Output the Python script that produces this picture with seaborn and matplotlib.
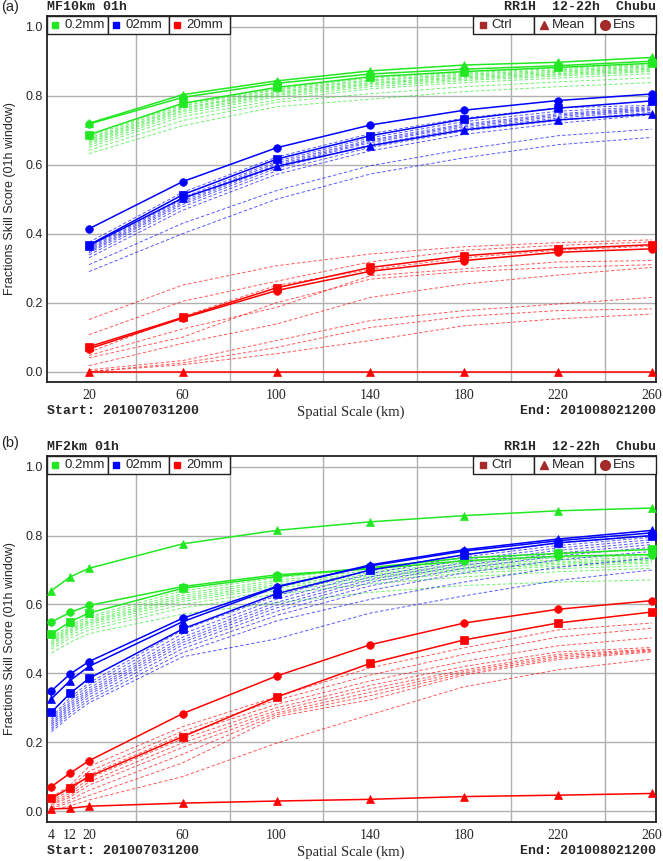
import numpy as np
import pandas as pd
import matplotlib
matplotlib.use("Agg")
import matplotlib.pyplot as plt
import seaborn as sns
from matplotlib.patches import Rectangle

sns.set_style("white")
plt.rcParams['font.family'] = ['DejaVu Sans']

# ---------------- DATA ----------------
thresholds = ["0.2mm", "02mm", "20mm"]
scales_a = [20, 60, 100, 140, 180, 220, 260]
scales_b = [4, 12, 20, 60, 100, 140, 180, 220, 260]
xticks_a = [20, 60, 100, 140, 180, 220, 260]
xticks_b = [4, 12, 20, 60, 100, 140, 180, 220, 260]
yticks = [0.0, 0.2, 0.4, 0.6, 0.8, 1.0]

# Panel (a) MF10km
a_green_ctrl = [0.687, 0.778, 0.824, 0.855, 0.870, 0.882, 0.894]
a_green_mean = [0.720, 0.803, 0.843, 0.872, 0.889, 0.897, 0.911]
a_green_ens = [0.718, 0.795, 0.836, 0.863, 0.877, 0.887, 0.900]
a_green_members = [
    [0.682, 0.775, 0.820, 0.851, 0.866, 0.879, 0.890],
    [0.677, 0.771, 0.817, 0.846, 0.862, 0.875, 0.887],
    [0.673, 0.766, 0.812, 0.843, 0.859, 0.871, 0.884],
    [0.669, 0.763, 0.809, 0.838, 0.855, 0.868, 0.880],
    [0.665, 0.758, 0.805, 0.835, 0.852, 0.864, 0.877],
    [0.661, 0.754, 0.801, 0.831, 0.848, 0.861, 0.873],
    [0.656, 0.748, 0.796, 0.826, 0.844, 0.857, 0.870],
    [0.650, 0.740, 0.788, 0.820, 0.838, 0.851, 0.864],
    [0.642, 0.728, 0.781, 0.806, 0.826, 0.840, 0.852],
    [0.632, 0.713, 0.768, 0.790, 0.812, 0.826, 0.838],
]
a_blue_ctrl = [0.367, 0.513, 0.616, 0.684, 0.732, 0.764, 0.785]
a_blue_mean = [0.365, 0.503, 0.595, 0.655, 0.701, 0.730, 0.747]
a_blue_ens = [0.414, 0.551, 0.649, 0.715, 0.758, 0.786, 0.805]
a_blue_members = [
    [0.375, 0.520, 0.622, 0.690, 0.735, 0.765, 0.772],
    [0.360, 0.505, 0.610, 0.678, 0.725, 0.755, 0.768],
    [0.356, 0.500, 0.605, 0.672, 0.718, 0.748, 0.765],
    [0.352, 0.495, 0.600, 0.668, 0.714, 0.744, 0.762],
    [0.348, 0.490, 0.596, 0.664, 0.710, 0.740, 0.760],
    [0.344, 0.485, 0.590, 0.658, 0.705, 0.735, 0.757],
    [0.338, 0.478, 0.582, 0.650, 0.698, 0.728, 0.752],
    [0.330, 0.468, 0.572, 0.640, 0.688, 0.720, 0.745],
    [0.310, 0.430, 0.525, 0.597, 0.645, 0.684, 0.703],
    [0.290, 0.400, 0.500, 0.573, 0.620, 0.658, 0.679],
]
a_red_ctrl = [0.072, 0.157, 0.243, 0.302, 0.336, 0.356, 0.368]
a_red_mean = [0.0, 0.0, 0.0, 0.0, 0.0, 0.0, 0.0]
a_red_ens = [0.066, 0.155, 0.235, 0.291, 0.322, 0.346, 0.356]
a_red_members = [
    [0.151, 0.251, 0.307, 0.341, 0.362, 0.374, 0.382],
    [0.107, 0.204, 0.262, 0.318, 0.352, 0.366, 0.376],
    [0.056, 0.160, 0.250, 0.296, 0.330, 0.352, 0.364],
    [0.047, 0.124, 0.186, 0.278, 0.298, 0.318, 0.322],
    [0.040, 0.100, 0.200, 0.268, 0.290, 0.302, 0.310],
    [0.017, 0.082, 0.138, 0.215, 0.254, 0.280, 0.302],
    [0.005, 0.032, 0.090, 0.148, 0.177, 0.196, 0.215],
    [0.000, 0.025, 0.070, 0.128, 0.160, 0.177, 0.182],
    [0.000, 0.020, 0.052, 0.090, 0.133, 0.153, 0.167],
]

# Panel (b) MF2km
b_green_ctrl = [0.514, 0.550, 0.575, 0.647, 0.681, 0.707, 0.735, 0.748, 0.760]
b_green_mean = [0.640, 0.680, 0.705, 0.776, 0.815, 0.840, 0.858, 0.872, 0.880]
b_green_ens = [0.549, 0.577, 0.597, 0.652, 0.686, 0.703, 0.727, 0.740, 0.745]
b_green_members = [
    [0.505, 0.540, 0.565, 0.640, 0.677, 0.705, 0.722, 0.735, 0.742],
    [0.500, 0.535, 0.560, 0.632, 0.670, 0.698, 0.716, 0.729, 0.737],
    [0.495, 0.530, 0.554, 0.626, 0.664, 0.692, 0.711, 0.724, 0.732],
    [0.490, 0.526, 0.550, 0.620, 0.658, 0.687, 0.706, 0.720, 0.728],
    [0.486, 0.522, 0.546, 0.615, 0.653, 0.682, 0.702, 0.716, 0.724],
    [0.482, 0.517, 0.541, 0.609, 0.648, 0.677, 0.697, 0.711, 0.720],
    [0.476, 0.510, 0.534, 0.600, 0.640, 0.670, 0.690, 0.704, 0.713],
    [0.470, 0.502, 0.526, 0.590, 0.630, 0.660, 0.680, 0.695, 0.705],
    [0.459, 0.490, 0.515, 0.572, 0.605, 0.635, 0.655, 0.665, 0.671],
]
b_blue_ctrl = [0.287, 0.342, 0.385, 0.529, 0.631, 0.700, 0.744, 0.779, 0.800]
b_blue_mean = [0.326, 0.379, 0.420, 0.550, 0.650, 0.715, 0.759, 0.790, 0.815]
b_blue_ens = [0.349, 0.398, 0.434, 0.560, 0.652, 0.712, 0.755, 0.785, 0.808]
b_blue_members = [
    [0.273, 0.330, 0.372, 0.526, 0.625, 0.700, 0.745, 0.778, 0.800],
    [0.268, 0.322, 0.365, 0.515, 0.615, 0.690, 0.738, 0.771, 0.795],
    [0.262, 0.315, 0.357, 0.505, 0.606, 0.680, 0.730, 0.764, 0.788],
    [0.257, 0.309, 0.350, 0.497, 0.598, 0.672, 0.722, 0.757, 0.781],
    [0.252, 0.303, 0.344, 0.490, 0.590, 0.664, 0.714, 0.749, 0.774],
    [0.247, 0.297, 0.338, 0.482, 0.580, 0.654, 0.705, 0.741, 0.766],
    [0.241, 0.290, 0.330, 0.472, 0.568, 0.641, 0.692, 0.729, 0.754],
    [0.236, 0.283, 0.322, 0.460, 0.552, 0.615, 0.665, 0.708, 0.735],
    [0.230, 0.275, 0.314, 0.448, 0.500, 0.575, 0.625, 0.670, 0.700],
]
b_red_ctrl = [0.037, 0.068, 0.100, 0.216, 0.331, 0.429, 0.497, 0.546, 0.578]
b_red_mean = [0.006, 0.008, 0.014, 0.023, 0.029, 0.034, 0.042, 0.046, 0.051]
b_red_ens = [0.071, 0.110, 0.146, 0.283, 0.392, 0.483, 0.546, 0.586, 0.611]
b_red_members = [
    [0.040, 0.075, 0.129, 0.245, 0.332, 0.416, 0.474, 0.526, 0.546],
    [0.035, 0.068, 0.115, 0.232, 0.322, 0.395, 0.455, 0.505, 0.531],
    [0.030, 0.060, 0.105, 0.222, 0.310, 0.378, 0.435, 0.480, 0.503],
    [0.026, 0.052, 0.095, 0.210, 0.300, 0.365, 0.420, 0.462, 0.475],
    [0.022, 0.045, 0.085, 0.198, 0.292, 0.355, 0.410, 0.455, 0.470],
    [0.018, 0.040, 0.075, 0.185, 0.285, 0.345, 0.405, 0.450, 0.468],
    [0.012, 0.032, 0.060, 0.165, 0.280, 0.335, 0.400, 0.445, 0.465],
    [0.008, 0.025, 0.045, 0.140, 0.274, 0.323, 0.395, 0.440, 0.462],
    [0.003, 0.015, 0.032, 0.100, 0.197, 0.280, 0.361, 0.410, 0.441],
]

# ---------------- STYLE ----------------
W, H = 663, 861
colors = {"0.2mm": "#22e822", "02mm": "#0000ff", "20mm": "#ff0000"}
legend_brown = "#a52a2a"
mono = ['Liberation Mono', 'DejaVu Sans Mono']
serif = ['Liberation Serif', 'DejaVu Serif']
sans = ['Liberation Sans', 'DejaVu Sans']

fig = plt.figure(figsize=(W / 100, H / 100), dpi=100)


def fx(px):
    return px / W


def fy(py):
    return 1 - py / H


def ftext(x, y, s, **kw):
    fig.text(fx(x), fy(y), s, **kw)


def draw_panel(ax, x, groups, xticks):
    # dashed ensemble members first
    for thr in thresholds:
        c = colors[thr]
        for m in groups[thr]["members"]:
            sns.lineplot(x=x, y=m, ax=ax, color=c, linewidth=0.7,
                         linestyle=(0, (3.5, 2.2)), alpha=0.65,
                         legend=False, sort=False, estimator=None, zorder=2)
    for thr in thresholds:
        c = colors[thr]
        for key, mk, ms in [("ctrl", "s", 5.2), ("mean", "^", 5.5), ("ens", "o", 5.5)]:
            sns.lineplot(x=x, y=groups[thr][key], ax=ax, color=c, linewidth=1.1,
                         marker=mk, markersize=ms, markeredgecolor=c,
                         markerfacecolor=c, markeredgewidth=0.5,
                         legend=False, sort=False, estimator=None, zorder=3)
    ax.set_xlim(2.0, 261.8)
    ax.set_ylim(-0.031, 1.032)
    ax.set_xticks(xticks)
    ax.set_xticks([40, 80, 120, 160, 200, 240], minor=True)
    ax.set_yticks(yticks)
    ax.set_yticklabels([f"{v:.1f}" for v in yticks], family=sans, fontsize=9)
    ax.set_xticklabels([str(v) for v in xticks], family=serif, fontsize=10)
    ax.tick_params(axis='both', which='both', length=0)
    ax.tick_params(axis='y', pad=3)
    ax.tick_params(axis='x', pad=5)
    ax.grid(False)
    ax.grid(True, which='minor', axis='x', color='#b0b0b0', linewidth=1.0, zorder=0)
    ax.grid(True, which='major', axis='y', color='#b0b0b0', linewidth=1.0, zorder=0)
    ax.set_axisbelow(True)
    for sp in ax.spines.values():
        sp.set_color('#222222')
        sp.set_linewidth(1.3)
    ax.set_xlabel("")
    ax.set_ylabel("")

    # legend cells
    axw, axh = 609.3, 366.3
    ch = 18.6 / axh
    left_cells = [(0.0, 0.1006), (0.1006, 0.2002), (0.2002, 0.3008)]
    for (x0, x1), thr in zip(left_cells, thresholds):
        ax.add_patch(Rectangle((x0, 1 - ch), x1 - x0, ch, transform=ax.transAxes,
                               facecolor='white', edgecolor='#222222', lw=1.0,
                               zorder=10, clip_on=False))
        ax.plot([x0 + 8.5 / axw], [1 - ch / 2], marker='s', ms=5, color=colors[thr],
                transform=ax.transAxes, zorder=11, clip_on=False, linestyle='none')
        ax.text(x0 + 17.5 / axw, 1 - ch / 2, thr, transform=ax.transAxes, va='center',
                ha='left', fontsize=9.5, family=sans, zorder=11)
    right_cells = [(0.6997, 0.8), (0.8, 0.9), (0.9, 1.0)]
    for (x0, x1), (lab, mk, ms) in zip(right_cells, [("Ctrl", "s", 5), ("Mean", "^", 6), ("Ens", "o", 7)]):
        ax.add_patch(Rectangle((x0, 1 - ch), x1 - x0, ch, transform=ax.transAxes,
                               facecolor='white', edgecolor='#222222', lw=1.0,
                               zorder=10, clip_on=False))
        ax.plot([x0 + 9.5 / axw], [1 - ch / 2], marker=mk, ms=ms, color=legend_brown,
                transform=ax.transAxes, zorder=11, clip_on=False, linestyle='none')
        ax.text(x0 + 18 / axw, 1 - ch / 2, lab, transform=ax.transAxes, va='center',
                ha='left', fontsize=9.5, family=sans, zorder=11)


groups_a = {
    "0.2mm": dict(ctrl=a_green_ctrl, mean=a_green_mean, ens=a_green_ens, members=a_green_members),
    "02mm": dict(ctrl=a_blue_ctrl, mean=a_blue_mean, ens=a_blue_ens, members=a_blue_members),
    "20mm": dict(ctrl=a_red_ctrl, mean=a_red_mean, ens=a_red_ens, members=a_red_members),
}
groups_b = {
    "0.2mm": dict(ctrl=b_green_ctrl, mean=b_green_mean, ens=b_green_ens, members=b_green_members),
    "02mm": dict(ctrl=b_blue_ctrl, mean=b_blue_mean, ens=b_blue_ens, members=b_blue_members),
    "20mm": dict(ctrl=b_red_ctrl, mean=b_red_mean, ens=b_red_ens, members=b_red_members),
}

left_px, right_px = 46.7, 656.0
panels = [
    dict(top=15.7, bot=382.3, groups=groups_a, x=scales_a, xt=xticks_a,
         tag="(a)", title="MF10km 01h", tagy=7, titley=7, starty=411),
    dict(top=455.7, bot=821.7, groups=groups_b, x=scales_b, xt=xticks_b,
         tag="(b)", title="MF2km 01h", tagy=443, titley=447, starty=851),
]

for p in panels:
    ax = fig.add_axes([fx(left_px), fy(p["bot"]), fx(right_px - left_px),
                       (p["bot"] - p["top"]) / H])
    draw_panel(ax, p["x"], p["groups"], p["xt"])
    ftext(1, p["tagy"], p["tag"], family=sans, fontsize=10.5, va='center', ha='left')
    ftext(left_px, p["titley"], p["title"], family=mono, fontweight='bold',
          fontsize=9.5, va='center', ha='left')
    ftext(right_px, p["titley"], "RR1H  12-22h  Chubu", family=mono, fontweight='bold',
          fontsize=9.5, va='center', ha='right')
    ftext(left_px, p["starty"], "Start: 201007031200", family=mono, fontweight='bold',
          fontsize=9.5, va='center', ha='left')
    ftext(351, p["starty"] + 1, "Spatial Scale (km)", family=serif, fontsize=10.5,
          va='center', ha='center')
    ftext(right_px, p["starty"], "End: 201008021200", family=mono, fontweight='bold',
          fontsize=9.5, va='center', ha='right')
    ftext(10, (p["top"] + p["bot"]) / 2, "Fractions Skill Score (01h window)",
          family=sans, fontsize=9, rotation=90, va='center', ha='center')

fig.savefig("out.png", dpi=100)
